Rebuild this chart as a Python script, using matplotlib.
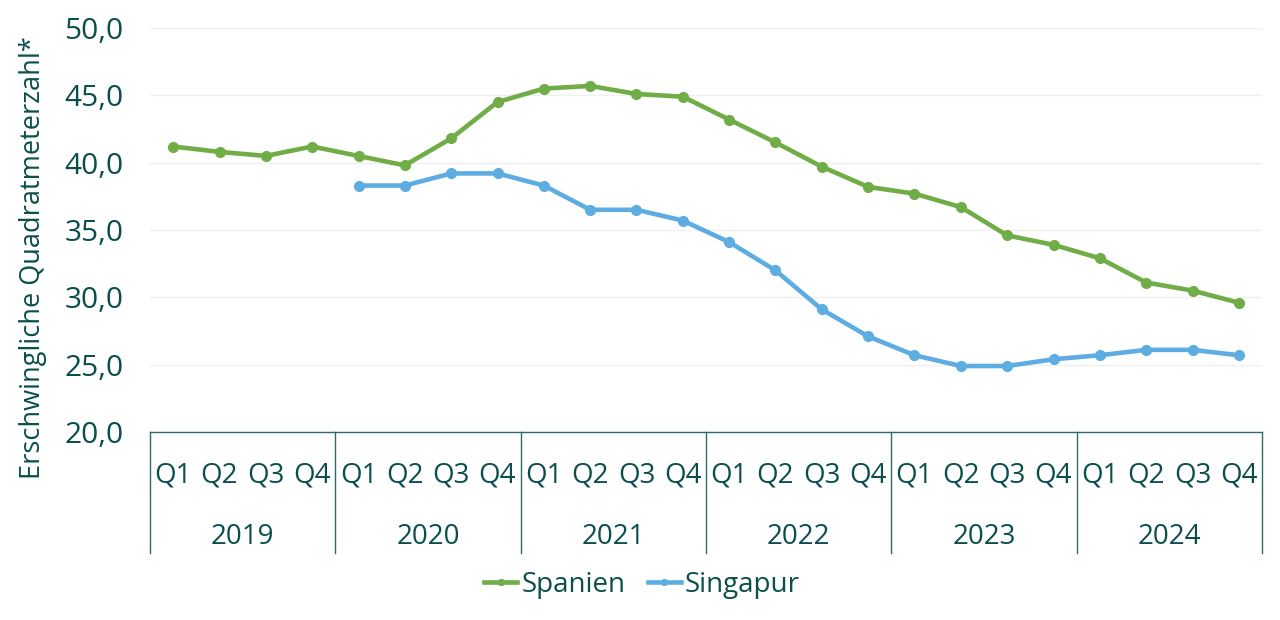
import matplotlib.pyplot as plt
from matplotlib.ticker import FuncFormatter
import numpy as np

years = ["2019", "2020", "2021", "2022", "2023", "2024"]
quarters = ["Q1", "Q2", "Q3", "Q4"]

spanien = [41.2, 40.8, 40.5, 41.2,
           40.5, 39.8, 41.8, 44.5,
           45.5, 45.7, 45.1, 44.9,
           43.2, 41.5, 39.7, 38.2,
           37.7, 36.7, 34.6, 33.9,
           32.9, 31.1, 30.5, 29.6]
singapur = [None, None, None, None,
            38.3, 38.3, 39.2, 39.2,
            38.3, 36.5, 36.5, 35.7,
            34.1, 32.0, 29.1, 27.1,
            25.7, 24.9, 24.9, 25.4,
            25.7, 26.1, 26.1, 25.7]

text_col = "#0B4F4D"
line_col = "#2E6B68"
green = "#70AD47"
blue = "#5DADE2"

plt.rcParams['font.family'] = ['Open Sans', 'DejaVu Sans']

fig = plt.figure(figsize=(12.8, 6.2), dpi=100)
ax = fig.add_axes([150 / 1280, 1 - 432 / 620, 1112 / 1280, 404 / 620])

x = np.arange(len(spanien))
sg = np.array([np.nan if v is None else v for v in singapur])
ax.plot(x, spanien, color=green, lw=3.3, marker='o', ms=7, label="Spanien")
ax.plot(x, sg, color=blue, lw=3.3, marker='o', ms=7, label="Singapur")

ax.set_xlim(-0.5, len(spanien) - 0.5)
ax.set_ylim(20, 50)
ax.set_yticks(np.arange(20, 51, 5))
ax.yaxis.set_major_formatter(FuncFormatter(lambda v, p: f"{v:.1f}".replace(".", ",")))
ax.grid(axis='y', color='#EFEFEF', lw=1)
ax.set_axisbelow(True)

for s in ['top', 'right', 'left']:
    ax.spines[s].set_visible(False)
ax.spines['bottom'].set_color(line_col)
ax.spines['bottom'].set_linewidth(1)

ax.set_xticks(x)
ax.set_xticklabels(quarters * len(years))
ax.tick_params(axis='x', length=0, pad=21, labelsize=20, colors=text_col)
ax.tick_params(axis='y', length=0, pad=19, labelsize=21.5, colors=text_col)

trans = ax.get_xaxis_transform()
depth = -(553 - 432) / 404
for i in range(len(years) + 1):
    xv = i * 4 - 0.5
    ax.plot([xv, xv], [0, depth], color=line_col, lw=1, transform=trans, clip_on=False)
for i, yr in enumerate(years):
    ax.text(i * 4 + 1.5, -(537 - 432) / 404, yr, transform=trans, ha='center', va='center',
            fontsize=20, color=text_col)

fig.text(33 / 1280, 1 - 258 / 620, "Erschwingliche Quadratmeterzahl*", rotation=90,
         ha='center', va='center', fontsize=19.5, color=text_col)

leg = fig.legend(loc='center', bbox_to_anchor=(642 / 1280, 1 - 585 / 620), ncol=2, frameon=False,
                 fontsize=20, handlelength=1.2, columnspacing=0.8, handletextpad=0.15,
                 markerscale=0.6)
for t in leg.get_texts():
    t.set_color(text_col)

fig.savefig("out.png", dpi=100)
